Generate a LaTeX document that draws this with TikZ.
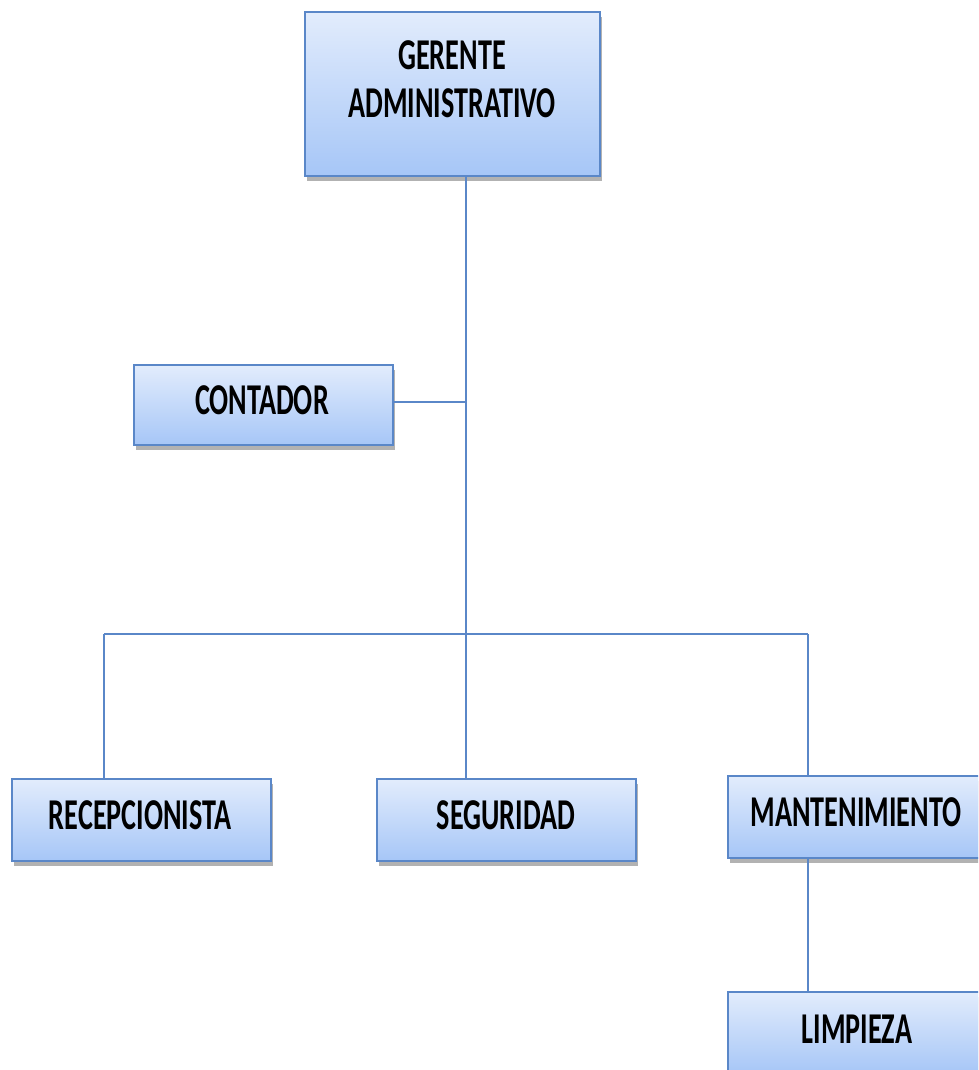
\documentclass[tikz,border=0pt]{standalone}
\usepackage{fontspec}
\newfontfamily\cond[FakeStretch=0.64]{Carlito}
\usetikzlibrary{shadows}
\definecolor{boxtop}{HTML}{E2ECFC}
\definecolor{boxbot}{HTML}{A6C6F7}
\definecolor{edgeblue}{HTML}{5A87C8}
\tikzset{
  orgbox/.style={draw=edgeblue, line width=1.5pt, top color=boxtop, bottom color=boxbot,
    drop shadow={shadow xshift=2pt, shadow yshift=-5pt, fill=black!60, opacity=0.5},
    inner sep=0pt, minimum width=259pt, minimum height=82pt,
    font=\cond\bfseries\fontsize{44}{48}\selectfont, text=black},
  orgtext/.style={font=\cond\bfseries\fontsize{44}{48}\selectfont, text=black, inner sep=0pt},
  conn/.style={draw=edgeblue, line width=1.5pt}
}
\begin{document}
\begin{tikzpicture}[x=1pt,y=-1pt]
\useasboundingbox (0,0) rectangle (978,1070);
\clip (0,0) rectangle (978,1070);
\fill[white] (0,0) rectangle (978,1070);
% boxes
\node[orgbox, minimum width=295pt, minimum height=164pt] (g) at (452.5,94) {};
\node[orgbox, minimum height=80pt] (c) at (263.5,405) {};
\node[orgbox] (rec) at (141.5,820) {};
\node[orgbox] (seg) at (506.5,820) {};
\node[orgbox, minimum width=258pt] (man) at (857,817) {};
\node[orgbox] (lim) at (857.5,1033) {};
% texts
\node[orgtext] (g1) at (452,55) {GERENTE};
\node[orgtext] (g2) at (452,103) {ADMINISTRATIVO};
\node[orgtext] (ct) at (262,400) {CONTADOR};
\node[orgtext] (rect) at (140,815) {RECEPCIONISTA};
\node[orgtext] (segt) at (506,815) {SEGURIDAD};
\node[orgtext] (mant) at (856,812) {MANTENIMIENTO};
\node[orgtext] (limt) at (857,1029) {LIMPIEZA};
% junctions
\coordinate (jc) at (466,402);
\coordinate (jb) at (466,634);
\coordinate (bl) at (104,634);
\coordinate (br) at (808,634);
% connectors
\draw[conn] (g.south -| jb) -- (seg.north -| jb);
\draw[conn] (c.east |- jc) -- (jc);
\draw[conn] (bl) -- (br);
\draw[conn] (bl) -- (rec.north -| bl);
\draw[conn] (br) -- (man.north -| br);
\draw[conn] (man.south -| br) -- (lim.north -| br);
\end{tikzpicture}
\end{document}
